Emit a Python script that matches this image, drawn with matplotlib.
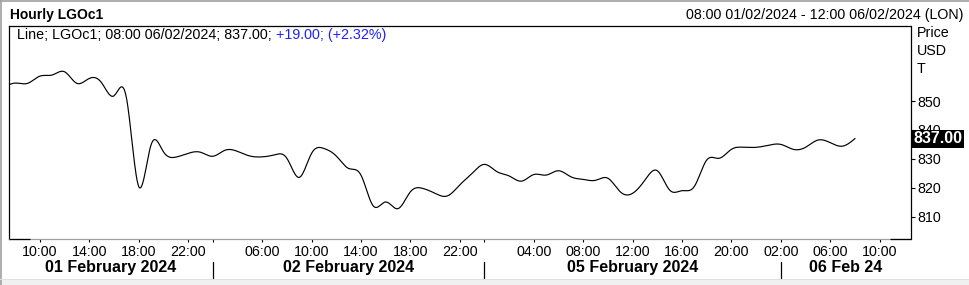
import numpy as np
import matplotlib
matplotlib.use('Agg')
import matplotlib.pyplot as plt
import matplotlib.transforms as mtransforms
from matplotlib.lines import Line2D
from matplotlib.patches import Rectangle

plt.rcParams['font.family'] = ['Liberation Sans', 'DejaVu Sans']

# ---------------- data ----------------
# hourly closes, trading-bar index starting at 07:00 01/02/2024 (index -1)
prices = [
    854.5,
    856.2, 856.1, 858.6, 859.0, 860.1, 856.1, 857.8, 856.3, 851.8, 851.3,
    820.5, 834.8, 832.5, 830.6, 831.9, 832.3, 830.9, 833.0, 832.6, 831.0,
    830.7, 831.4, 830.2, 823.6, 831.9, 833.6, 831.0, 826.7, 824.4, 813.7,
    815.1, 812.8, 818.6, 819.8, 818.1, 817.2, 821.0, 825.0, 828.1, 825.6,
    824.1, 822.3, 824.6, 824.4, 825.9, 823.8, 822.9, 822.6, 823.3, 818.6,
    818.1, 822.7, 825.9, 819.2, 819.0, 820.5, 829.6, 830.2, 833.3, 834.0,
    834.0, 834.7, 835.0, 833.3, 834.0, 836.5, 835.6, 834.4, 837.0,
]
first_bar = -1
bar_index = np.arange(len(prices)) + first_bar

tick_bars = [2, 6, 10, 14, 16, 20, 24, 28, 32, 36, 38, 42, 46, 50, 54, 58, 62, 66, 70]
tick_labels = ['10:00', '14:00', '18:00', '22:00', '', '06:00', '10:00', '14:00',
               '18:00', '22:00', '', '04:00', '08:00', '12:00', '16:00', '20:00',
               '02:00', '06:00', '10:00']
day_breaks = [16, 38, 62]
day_labels = ['01 February 2024', '02 February 2024', '05 February 2024', '06 Feb 24']
y_ticks = [810, 820, 830, 840, 850]
y_tick_labels = ['810', '820', '830', '840', '850']
last_price = 837.00
change = 19.00
change_pct = 2.32
title = 'Hourly LGOc1'
range_text = '08:00 01/02/2024 - 12:00 06/02/2024 (LON)'
unit_labels = ['Price', 'USD', 'T']
x_range = (-0.5, 72.5)
y_range = (802.2, 876.1)

FS = 10.3


def natural_spline(x, y, n=24):
    x = np.asarray(x, float)
    y = np.asarray(y, float)
    N = len(x)
    h = np.diff(x)
    A = np.zeros((N, N))
    r = np.zeros(N)
    A[0, 0] = 1
    A[-1, -1] = 1
    for i in range(1, N - 1):
        A[i, i - 1] = h[i - 1]
        A[i, i] = 2 * (h[i - 1] + h[i])
        A[i, i + 1] = h[i]
        r[i] = 3 * ((y[i + 1] - y[i]) / h[i] - (y[i] - y[i - 1]) / h[i - 1])
    c = np.linalg.solve(A, r)
    xs, ys = [], []
    for i in range(N - 1):
        b = (y[i + 1] - y[i]) / h[i] - h[i] * (2 * c[i] + c[i + 1]) / 3
        d = (c[i + 1] - c[i]) / (3 * h[i])
        t = np.linspace(0, h[i], n, endpoint=False)
        xs.append(x[i] + t)
        ys.append(y[i] + b * t + c[i] * t ** 2 + d * t ** 3)
    xs.append([x[-1]])
    ys.append([y[-1]])
    return np.concatenate(xs), np.concatenate(ys)


W, H = 969, 285
fig = plt.figure(figsize=(W / 100, H / 100), dpi=100)
fig.patch.set_facecolor('white')


def fx(px):
    return px / W


def fy(py):
    return 1 - py / H


ax_l, ax_r, ax_t, ax_b = 9, 910.5, 25.5, 239.3
ax = fig.add_axes([fx(ax_l), fy(ax_b), (ax_r - ax_l) / W, (ax_b - ax_t) / H])
ax.set_facecolor('white')

sx, sy = natural_spline(bar_index, prices)
ax.plot(sx, sy, color='black', lw=0.85, solid_joinstyle='round')

ax.set_xlim(*x_range)
ax.set_ylim(*y_range)

for s in ['left', 'right', 'top']:
    ax.spines[s].set_color('black')
    ax.spines[s].set_linewidth(0.9)
ax.spines['bottom'].set_color('#a0a0a0')
ax.spines['bottom'].set_linewidth(0.9)
aw = ax_r - ax_l
ax.plot([0, 21 / aw], [0, 0], transform=ax.transAxes, color='black', lw=0.9,
        clip_on=False, zorder=5, solid_capstyle='butt')
ax.plot([1 - 21 / aw, 1], [0, 0], transform=ax.transAxes, color='black', lw=0.9,
        clip_on=False, zorder=5, solid_capstyle='butt')

ax.set_xticks(tick_bars)
ax.set_xticklabels(tick_labels)
ax.tick_params(axis='x', length=2.2, width=0.8, pad=2.0, labelsize=FS,
               colors='black', direction='out')
ax.yaxis.tick_right()
ax.set_yticks(y_ticks)
ax.set_yticklabels(y_tick_labels)
ax.tick_params(axis='y', length=3.0, width=0.8, pad=2.0, labelsize=FS,
               colors='black', direction='out')

# date row
ah = ax_b - ax_t
bt = mtransforms.blended_transform_factory(ax.transData, ax.transAxes)
bounds = [x_range[0]] + day_breaks + [x_range[1]]
for k, lab in enumerate(day_labels):
    xc = (bounds[k] + bounds[k + 1]) / 2
    ax.text(xc, -(267.7 - ax_b) / ah, lab, transform=bt, ha='center', va='center',
            fontsize=11.5, fontweight='bold', clip_on=False)
for xb in day_breaks:
    ax.plot([xb, xb], [-(261.5 - ax_b) / ah, -(278 - ax_b) / ah], transform=bt,
            color='black', lw=0.9, clip_on=False)

# last price box
tr = mtransforms.blended_transform_factory(ax.transAxes, ax.transData)
ax.text(1.0 + 3 / aw, last_price, f'{last_price:.2f}', transform=tr, ha='left',
        va='center', color='white', fontweight='bold', fontsize=11.5,
        bbox=dict(boxstyle='square,pad=0.1', fc='black', ec='none'),
        clip_on=False, zorder=10)

# header texts
fig.text(fx(10), fy(15), title, ha='left', va='center', fontsize=10, fontweight='bold')
fig.text(fx(963), fy(15), range_text, ha='right', va='center', fontsize=FS)
for k, lab in enumerate(unit_labels):
    fig.text(fx(917), fy(33.3 + 18 * k), lab, ha='left', va='center', fontsize=FS)

# legend line
t1 = fig.text(fx(17), fy(35), f'Line; LGOc1; 08:00 06/02/2024; {last_price:.2f}; ',
              ha='left', va='center', fontsize=FS)
fig.canvas.draw()
ax.annotate(f'+{change:.2f}; (+{change_pct:.2f}%)', xy=(1, 0.5), xycoords=t1,
            ha='left', va='center', fontsize=FS, color='#2020ff', annotation_clip=False)

# figure frame
fig.add_artist(Line2D([0, 1], [fy(0.5), fy(0.5)], transform=fig.transFigure,
                      color='#a0a0a0', lw=1.2))
fig.add_artist(Line2D([fx(0.8), fx(0.8)], [0, 1], transform=fig.transFigure,
                      color='#a0a0a0', lw=1.2))
fig.add_artist(Rectangle((0, 0), 1, fy(278.5), transform=fig.transFigure,
                         facecolor='#f0f0f0', edgecolor='none', zorder=-1))
fig.add_artist(Line2D([0, 1], [fy(278.5), fy(278.5)], transform=fig.transFigure,
                      color='#e0e0e0', lw=0.8))

fig.savefig('out.png', dpi=100)
